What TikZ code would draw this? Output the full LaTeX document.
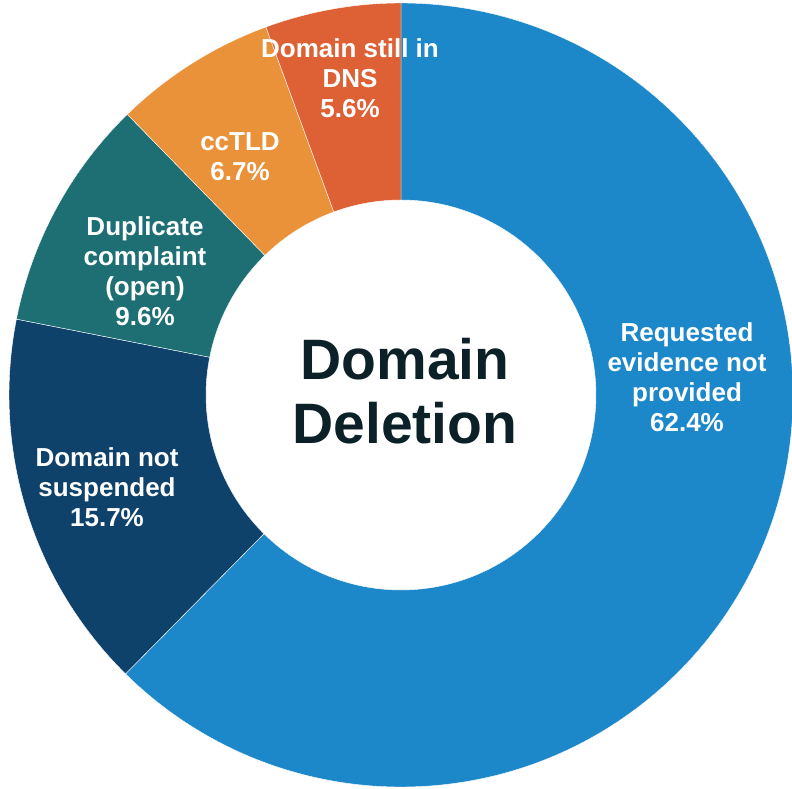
\documentclass[tikz,border=0pt]{standalone}
\usepackage{fontspec}
\setmainfont{Liberation Sans}
\usepackage{tikz}
\usetikzlibrary{shapes,arrows,positioning}

\definecolor{evblue}{HTML}{1C87C9}
\definecolor{susnavy}{HTML}{0F426B}
\definecolor{dupteal}{HTML}{1D6F73}
\definecolor{cctorange}{HTML}{EA923A}
\definecolor{dnsred}{HTML}{DD6135}
\definecolor{titleink}{HTML}{0B2027}

\begin{document}
\begin{tikzpicture}[x=1pt,y=1pt]
\tikzstyle{slice}=[draw=white, line width=0.4pt]
\tikzstyle{ann}=[text=white, align=center, font=\fontsize{26}{30}\selectfont\bfseries]
\tikzstyle{title}=[text=titleink, align=center, font=\fontsize{57}{64}\selectfont\bfseries]

\useasboundingbox (0,0) rectangle (792,789);
\coordinate (c) at (401,394);

% slices, clockwise from the top
\path [slice, fill=evblue] ([shift={(90:392pt)}]c) arc[start angle=90, end angle=-134.64, radius=392pt]
  -- ([shift={(-134.64:195pt)}]c) arc[start angle=-134.64, end angle=90, radius=195pt] -- cycle;
\path [slice, fill=susnavy] ([shift={(-134.64:392pt)}]c) arc[start angle=-134.64, end angle=-191.16, radius=392pt]
  -- ([shift={(-191.16:195pt)}]c) arc[start angle=-191.16, end angle=-134.64, radius=195pt] -- cycle;
\path [slice, fill=dupteal] ([shift={(-191.16:392pt)}]c) arc[start angle=-191.16, end angle=-225.72, radius=392pt]
  -- ([shift={(-225.72:195pt)}]c) arc[start angle=-225.72, end angle=-191.16, radius=195pt] -- cycle;
\path [slice, fill=cctorange] ([shift={(-225.72:392pt)}]c) arc[start angle=-225.72, end angle=-249.84, radius=392pt]
  -- ([shift={(-249.84:195pt)}]c) arc[start angle=-249.84, end angle=-225.72, radius=195pt] -- cycle;
\path [slice, fill=dnsred] ([shift={(-249.84:392pt)}]c) arc[start angle=-249.84, end angle=-270, radius=392pt]
  -- ([shift={(-270:195pt)}]c) arc[start angle=-270, end angle=-249.84, radius=195pt] -- cycle;

% labels
\node (evidence) [ann] at (687,412) {Requested\\evidence not\\provided\\62.4\%};
\node (suspended) [ann] at (107,302) {Domain not\\suspended\\15.7\%};
\node (duplicate) [ann] at (145,518) {Duplicate\\complaint\\(open)\\9.6\%};
\node (cctld) [ann] at (240,632) {ccTLD\\6.7\%};
\node (dns) [ann] at (350,711) {Domain still in\\DNS\\5.6\%};

\node (centre) [title] at (405,398) {Domain\\Deletion};
\end{tikzpicture}
\end{document}
